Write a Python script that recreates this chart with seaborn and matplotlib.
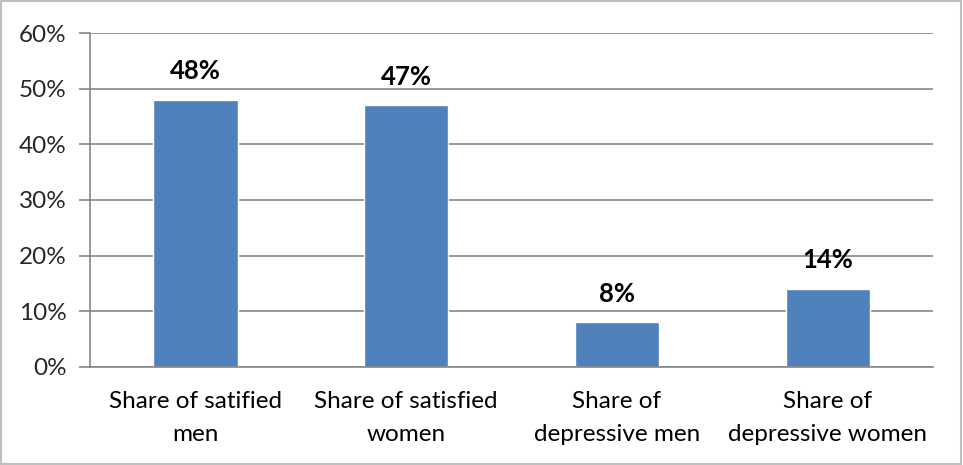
import matplotlib
matplotlib.use("Agg")
import matplotlib.pyplot as plt
from matplotlib.ticker import FixedLocator, PercentFormatter
import seaborn as sns
import pandas as pd

categories = ["Share of satified\nmen", "Share of satisfied\nwomen",
              "Share of\ndepressive men", "Share of\ndepressive women"]
values = [48, 47, 8, 14]
y_ticks = [0, 10, 20, 30, 40, 50, 60]

sns.set_theme(style="white")
plt.rcParams["font.family"] = ["Lato", "DejaVu Sans"]

df = pd.DataFrame({"category": categories, "value": values})

fig = plt.figure(figsize=(9.63, 4.65), dpi=100)
ax = fig.add_axes([0.0935, 0.2108, 0.8755, 0.7182])

sns.barplot(data=df, x="category", y="value", color="#4F81BD",
            saturation=1, width=0.4, ax=ax)

grid_col = "#868686"
ax.set_ylim(0, 60)
ax.set_xlim(-0.5, len(categories) - 0.5)
ax.set_yticks(y_ticks)
ax.yaxis.set_major_formatter(PercentFormatter(decimals=0))
ax.yaxis.grid(True, color=grid_col, linewidth=1.2)
ax.set_axisbelow(True)
ax.set_xlabel("")
ax.set_ylabel("")

for side in ["top", "right"]:
    ax.spines[side].set_visible(False)
for side in ["left", "bottom"]:
    ax.spines[side].set_color(grid_col)
    ax.spines[side].set_linewidth(1.2)

# category labels centred under bars, tick marks between categories
ax.tick_params(axis="x", which="major", length=0, pad=17, labelsize=17.5, colors="black")
ax.xaxis.set_minor_locator(FixedLocator([i - 0.5 for i in range(len(categories) + 1)]))
ax.tick_params(axis="x", which="minor", length=8, width=1.2, color=grid_col, direction="out")
ax.tick_params(axis="y", length=8, width=1.2, color=grid_col, direction="out",
               labelsize=17.5, pad=9, left=True)
for lbl in ax.get_xticklabels():
    lbl.set_linespacing(1.75)

for bar, v in zip(ax.patches, values):
    ax.annotate(f"{v}%", (bar.get_x() + bar.get_width() / 2, bar.get_height()),
                xytext=(0, 12), textcoords="offset points", ha="center", va="bottom",
                fontsize=18.5, fontweight="bold", color="black")

fig.patches.append(plt.Rectangle((0.001, 0.002), 0.997, 0.995, transform=fig.transFigure,
                                 fill=False, edgecolor="#BFBFBF", linewidth=1.5))

fig.savefig("out.png", dpi=100, facecolor="white")
